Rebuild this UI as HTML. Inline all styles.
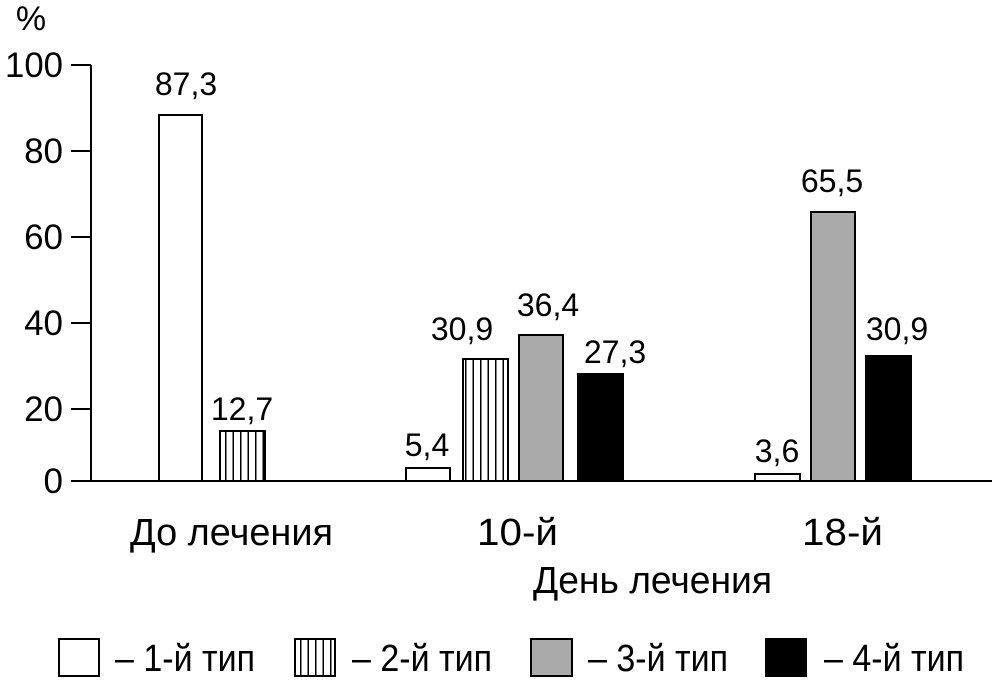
<!DOCTYPE html>
<html><head><meta charset="utf-8"><style>
html,body{margin:0;padding:0;background:#fff}
svg text{font-family:"Liberation Sans",sans-serif;fill:#000}
</style></head><body>
<svg width="992" height="679" viewBox="0 0 992 679" xmlns="http://www.w3.org/2000/svg">
<defs>
<pattern id="h" width="7.5" height="10" patternUnits="userSpaceOnUse">
<rect width="7.5" height="10" fill="#fff"/><line x1="0.75" y1="0" x2="0.75" y2="10" stroke="#000" stroke-width="1.5"/>
</pattern>
</defs>
<g stroke="#000" stroke-width="2">
<line x1="91" y1="65" x2="91" y2="481"/>
<line x1="71" y1="65" x2="91" y2="65"/>
<line x1="71" y1="151" x2="91" y2="151"/>
<line x1="71" y1="237" x2="91" y2="237"/>
<line x1="71" y1="323" x2="91" y2="323"/>
<line x1="71" y1="409" x2="91" y2="409"/>
<line x1="71" y1="481" x2="992" y2="481"/>
</g>
<g font-size="35" text-anchor="end">
<text x="63" y="77" textLength="58" lengthAdjust="spacingAndGlyphs">100</text><text x="63" y="163">80</text><text x="63" y="249">60</text>
<text x="63" y="335">40</text><text x="63" y="421">20</text><text x="63" y="493">0</text>
</g>
<text x="31" y="30" font-size="34" text-anchor="middle">%</text>
<g stroke="#000" stroke-width="2">
<rect x="159" y="115" width="43" height="366" fill="#fff"/>
<rect x="220" y="431" width="45" height="50" fill="url(#h)"/>
<rect x="406" y="468" width="44" height="13" fill="#fff"/>
<rect x="463" y="359" width="45" height="122" fill="url(#h)"/>
<rect x="519" y="335" width="44" height="146" fill="#aaa"/>
<rect x="578" y="374" width="45" height="107" fill="#000"/>
<rect x="755" y="474" width="45" height="7" fill="#fff"/>
<rect x="811" y="212" width="44" height="269" fill="#aaa"/>
<rect x="866" y="356" width="45" height="125" fill="#000"/>
</g>
<g font-size="32" text-anchor="middle">
<text x="186" y="95">87,3</text><text x="242" y="420">12,7</text>
<text x="427" y="456">5,4</text><text x="462" y="340">30,9</text>
<text x="548" y="316">36,4</text><text x="615" y="363">27,3</text>
<text x="777" y="462">3,6</text><text x="832" y="192">65,5</text>
<text x="897" y="340">30,9</text>
</g>
<g font-size="38">
<text x="130" y="545" textLength="203" lengthAdjust="spacingAndGlyphs">До лечения</text>
<text x="477" y="545" textLength="81" lengthAdjust="spacingAndGlyphs">10-й</text>
<text x="802" y="545" textLength="81" lengthAdjust="spacingAndGlyphs">18-й</text>
<text x="533" y="593" textLength="239" lengthAdjust="spacingAndGlyphs">День лечения</text>
</g>
<g stroke="#000" stroke-width="2">
<rect x="59" y="639" width="40" height="37" fill="#fff"/>
<rect x="295" y="639" width="40" height="37" fill="url(#h)"/>
<rect x="531" y="639" width="41" height="37" fill="#aaa"/>
<rect x="766" y="639" width="40" height="37" fill="#000"/>
</g>
<g font-size="38">
<text x="115" y="671" textLength="140" lengthAdjust="spacingAndGlyphs">– 1-й тип</text>
<text x="352" y="671" textLength="140" lengthAdjust="spacingAndGlyphs">– 2-й тип</text>
<text x="588" y="671" textLength="140" lengthAdjust="spacingAndGlyphs">– 3-й тип</text>
<text x="824" y="671" textLength="140" lengthAdjust="spacingAndGlyphs">– 4-й тип</text>
</g>
</svg>
</body></html>
